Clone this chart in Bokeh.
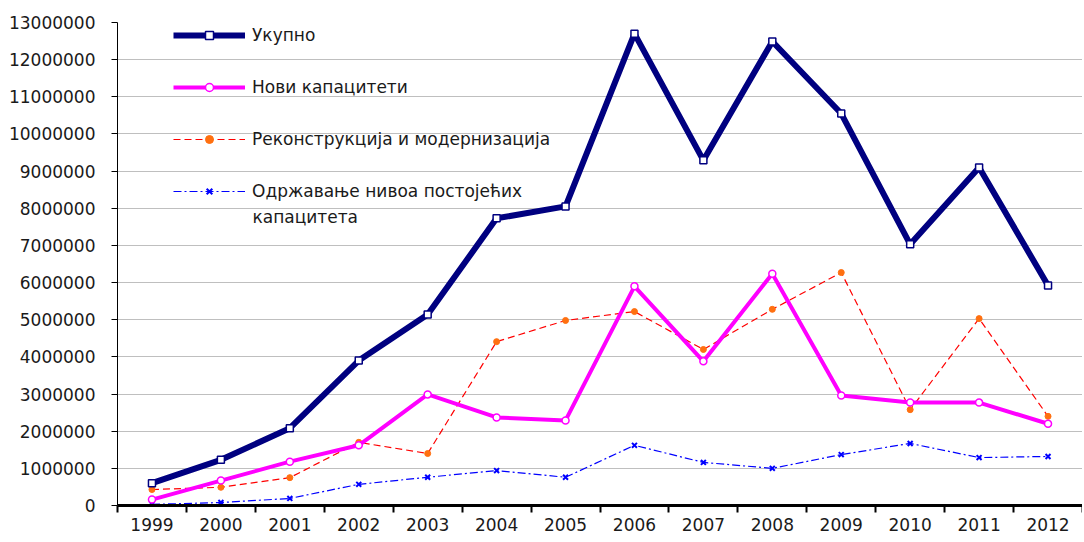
from bokeh.plotting import figure
from bokeh.models import FixedTicker, BasicTickFormatter, Legend, LegendItem, Label
from bokeh.embed import file_html
from bokeh.resources import INLINE

years = [1999, 2000, 2001, 2002, 2003, 2004, 2005, 2006, 2007, 2008, 2009, 2010, 2011, 2012]
ukupno = [600000, 1230000, 2080000, 3900000, 5140000, 7730000, 8050000, 12700000, 9290000, 12490000, 10550000, 7030000, 9100000, 5920000]
novi = [160000, 670000, 1180000, 1620000, 2990000, 2370000, 2290000, 5900000, 3880000, 6240000, 2960000, 2770000, 2770000, 2200000]
rekonstrukcija = [430000, 490000, 750000, 1700000, 1400000, 4410000, 4980000, 5220000, 4200000, 5280000, 6270000, 2580000, 5030000, 2400000]
odrzavanje = [30000, 80000, 190000, 570000, 760000, 940000, 760000, 1620000, 1160000, 1000000, 1370000, 1670000, 1290000, 1320000]
labels = ["Укупно", "Нови капацитети", "Реконструкција и модернизација", "Одржавање нивоа постојећих\nкапацитета"]
y_ticks = list(range(0, 13000001, 1000000))

FONT = "DejaVu Sans"
TXT = "#1a1a1a"

p = figure(width=1082, height=540, output_backend="svg", toolbar_location=None,
           x_range=(years[0] - 0.5, years[-1] + 0.5), y_range=(0, 13000000),
           min_border_left=117, min_border_right=0, min_border_top=22, min_border_bottom=35)
p.outline_line_color = None
p.background_fill_color = "white"

# grid
p.xgrid.grid_line_color = None
p.ygrid.ticker = FixedTicker(ticks=y_ticks)
p.ygrid.grid_line_color = "#bfbfbf"
p.ygrid.grid_line_width = 1

# y axis
p.yaxis.ticker = FixedTicker(ticks=y_ticks)
p.yaxis.formatter = BasicTickFormatter(use_scientific=False)
p.yaxis.axis_line_color = "black"
p.yaxis.major_tick_line_color = "black"
p.yaxis.major_tick_out = 6
p.yaxis.major_tick_in = 0
p.yaxis.minor_tick_line_color = None
p.yaxis.major_label_text_font = FONT
p.yaxis.major_label_text_font_size = "17px"
p.yaxis.major_label_text_color = TXT
p.yaxis.major_label_standoff = 16

# x axis
half = [y - 0.5 for y in years] + [years[-1] + 0.5]
p.xaxis.ticker = FixedTicker(ticks=years, minor_ticks=half)
p.xaxis.axis_line_color = "black"
p.xaxis.axis_line_width = 3
p.xaxis.major_tick_line_color = None
p.xaxis.major_tick_out = 0
p.xaxis.major_tick_in = 0
p.xaxis.minor_tick_line_color = "black"
p.xaxis.minor_tick_line_width = 2
p.xaxis.minor_tick_out = 7
p.xaxis.minor_tick_in = 0
p.xaxis.major_label_text_font = FONT
p.xaxis.major_label_text_font_size = "17px"
p.xaxis.major_label_text_color = TXT
p.xaxis.major_label_standoff = 5

# series
r4l = p.line(years, odrzavanje, line_color="#0000ff", line_width=1.2, line_dash="8 3 2 3")
r4m = p.scatter(years, odrzavanje, marker="x", size=7, line_color="#0000ff", line_width=2)
r3l = p.line(years, rekonstrukcija, line_color="#ff0000", line_width=1.2, line_dash="7 4")
r3m = p.scatter(years, rekonstrukcija, marker="circle", size=6, fill_color="#ff7010", line_color="#ff7010")
r2l = p.line(years, novi, line_color="#ff00ff", line_width=4)
r2m = p.scatter(years, novi, marker="circle", size=7, fill_color="white", line_color="#ff00ff", line_width=1.5)
r1l = p.line(years, ukupno, line_color="#000080", line_width=6)
r1m = p.scatter(years, ukupno, marker="square", size=7, fill_color="white", line_color="#000080", line_width=1.5)

last_lines = labels[3].split("\n")
legend = Legend(items=[
    LegendItem(label=labels[0], renderers=[r1l, r1m]),
    LegendItem(label=labels[1], renderers=[r2l, r2m]),
    LegendItem(label=labels[2], renderers=[r3l, r3m]),
    LegendItem(label=last_lines[0], renderers=[r4l, r4m]),
], location=(56, 304))
legend.border_line_color = None
legend.background_fill_alpha = 0
legend.padding = 0
legend.margin = 0
legend.glyph_width = 72
legend.glyph_height = 20
legend.label_height = 20
legend.spacing = 32
legend.label_standoff = 7
legend.label_text_font = FONT
legend.label_text_font_size = "17px"
legend.label_text_color = TXT
p.add_layout(legend)

p.add_layout(Label(x=135, y=289, x_units="screen", y_units="screen", text=last_lines[1],
                   text_font=FONT, text_font_size="17px", text_color=TXT,
                   text_baseline="middle", text_align="left"))

open("out.html", "w").write(file_html(p, INLINE))
